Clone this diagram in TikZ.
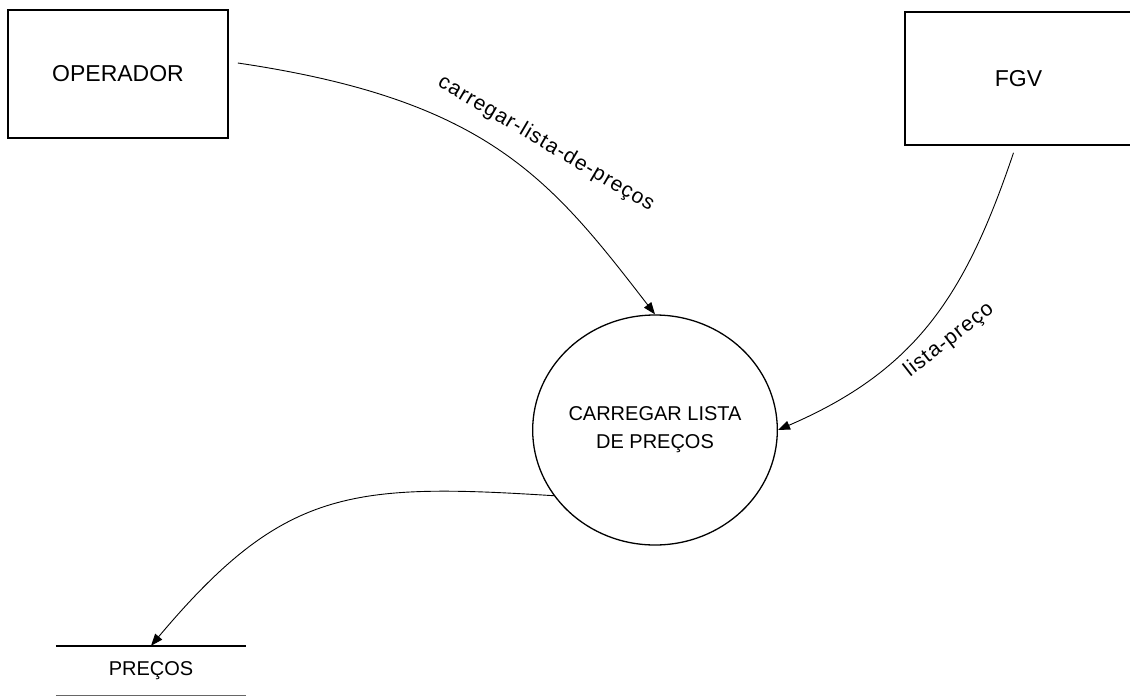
\documentclass[tikz,border=0pt]{standalone}
\usepackage{fontspec}
\setmainfont{Liberation Sans}
\newfontfamily\labfont[LetterSpace=5]{Liberation Sans}
\usetikzlibrary{arrows.meta,shapes.geometric,calc}
\begin{document}
\begin{tikzpicture}[x=1pt,y=-1pt,
  entity/.style={draw,line width=1.6pt,font=\fontsize{23}{27}\selectfont,inner sep=0pt},
  proc/.style={draw,ellipse,line width=1.3pt,minimum width=214pt,minimum height=230pt,inner sep=0pt,align=center,font=\fontsize{20}{28}\selectfont},
  flow/.style={line width=0.9pt,-{Triangle[length=12pt,width=9pt]}},
  flowlabel/.style={font=\labfont\fontsize{21}{24}\selectfont,inner sep=0pt},
  storelabel/.style={font=\fontsize{20}{24}\selectfont,minimum width=190pt,minimum height=49pt,inner sep=0pt}]
\useasboundingbox (0,0) rectangle (1130,696);
\node[entity,minimum width=220pt,minimum height=128pt] (op) at (118,74) {OPERADOR};
\node[entity,minimum width=227pt,minimum height=133pt] (fgv) at (1018.5,78.5) {FGV};
\node[proc] (p) at (655,430) {CARREGAR LISTA\\DE PREÇOS};
\node[storelabel] (st) at (151,670.5) {PREÇOS};
\draw[line width=1.6pt] (st.north west) -- (st.north east);
\draw[line width=1pt,black!60] (st.south west) -- (st.south east);
\draw[flow] ($(op.east)+(9,-11)$) .. controls +(250,37) and +(-105,-136) .. (p.north);
\draw[flow] ($(fgv.south)+(-5,7)$) .. controls +(-48,142) and +(139,-60) .. (p.east);
\draw[flow] (p.213) .. controls +(-204,-13) and +(132,-157) .. (st.north);
\node[flowlabel,rotate=-30.5] (l1) at (546,144) {carregar-lista-de-preços};
\node[flowlabel,rotate=38] (l2) at (949,340) {lista-preço};
\end{tikzpicture}
\end{document}
